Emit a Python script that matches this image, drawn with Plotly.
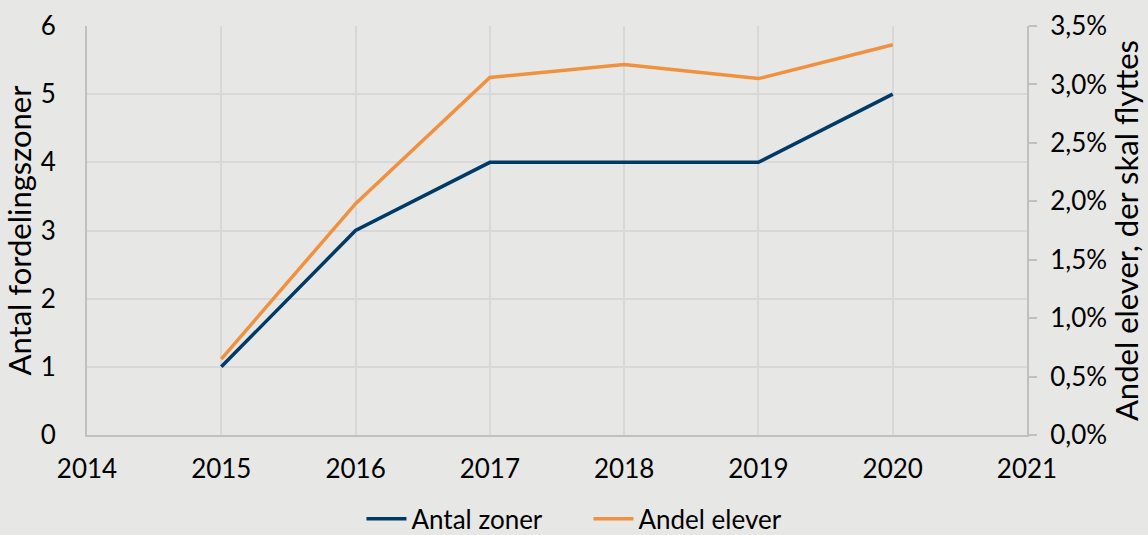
import plotly.graph_objects as go

years = [2015, 2016, 2017, 2018, 2019, 2020]
antal_zoner = [1, 3, 4, 4, 4, 5]
andel_elever = [0.0065, 0.0198, 0.0306, 0.0317, 0.0305, 0.0334]

BLUE = "#003a66"
ORANGE = "#f0913f"
BG = "#e7e7e6"
GRID = "#d8d8d8"
AXIS = "#c0c0c0"
FONT = "Lato"

fig = go.Figure()
fig.add_trace(go.Scatter(x=years, y=antal_zoner, name="Antal zoner", mode="lines",
                         line=dict(color=BLUE, width=3.5)))
fig.add_trace(go.Scatter(x=years, y=andel_elever, name="Andel elever", mode="lines",
                         line=dict(color=ORANGE, width=3.5), yaxis="y2"))

fig.update_layout(
    width=1148, height=535,
    paper_bgcolor=BG, plot_bgcolor=BG,
    margin=dict(l=87, r=121, t=26, b=100, autoexpand=False),
    font=dict(family=FONT, size=26, color="#000000"),
    separators=",.",
    showlegend=True,
    legend=dict(orientation="h", x=0.292, xanchor="left", yref="container", y=0.03, yanchor="middle",
                font=dict(size=26), bgcolor="rgba(0,0,0,0)", itemwidth=40,
                entrywidth=172, entrywidthmode="pixels"),
    xaxis=dict(range=[2014, 2021], dtick=1, showgrid=True, gridcolor=GRID, gridwidth=2,
               showline=True, linecolor=AXIS, linewidth=2, ticks="", zeroline=False,
               ticklabelstandoff=10),
    yaxis=dict(range=[0, 6], dtick=1, showgrid=True, gridcolor=GRID, gridwidth=2,
               showline=True, linecolor=AXIS, linewidth=2, ticks="", zeroline=False,
               title=dict(text="Antal fordelingszoner", standoff=10),
               ticklabelstandoff=24),
    yaxis2=dict(range=[0, 0.035], dtick=0.005, tickformat=".1%", overlaying="y", side="right",
                showgrid=False, showline=True, linecolor=AXIS, linewidth=2,
                ticks="outside", ticklen=8, tickcolor=AXIS, tickwidth=2, zeroline=False,
                title=dict(text="Andel elever, der skal flyttes", standoff=8),
                ticklabelstandoff=8),
)

fig.write_html("out.html", config={"displayModeBar": False},
               post_script="document.body.style.margin='0';document.body.style.padding='0';")
